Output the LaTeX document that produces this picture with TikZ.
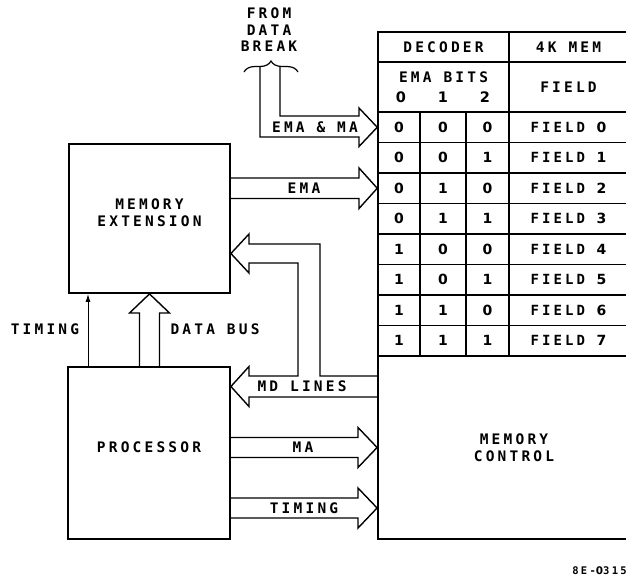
\documentclass[tikz,border=0pt]{standalone}
\usepackage{fontspec}
\usepackage{tikz}
\usetikzlibrary{
    arrows.meta,
    decorations.pathreplacing,
    shapes
}
\newfontfamily\leroy[LetterSpace=22]{DejaVu Sans Mono Bold}
\newfontfamily\digits{DejaVu Sans Bold}

\tikzset{
    blk/.style={draw, line width=1.8pt, inner sep=0pt},
    cell/.style={draw, line width=1.5pt, inner sep=0pt, minimum height=30.5, font=\leroy\fontsize{14}{16}\selectfont},
    bus/.style={line width=1.4pt, line join=miter},
    txt/.style={font=\leroy\fontsize{14.5}{17}\selectfont, align=center, inner sep=0pt}
}

\begin{document}
\begin{tikzpicture}[x=1pt, y=-1pt]
\useasboundingbox (0,0) rectangle (626,579);

% boxes
\node[blk, minimum width=161, minimum height=149] (memext) at (149.5,218.5) {};
\node[txt] at ([yshift=6pt]memext.center) {MEMORY\\EXTENSION};
\node[blk, minimum width=162, minimum height=172] (proc) at (149,453) {};
\node[txt] at ([yshift=6pt]proc.center) {PROCESSOR};
\node[blk, txt, draw, line width=1.8pt, minimum width=272, minimum height=183] (memctl) at (514,447.5) {MEMORY\\CONTROL};

% decoder table
\node[cell, txt, minimum width=131, minimum height=30] (dec) at (443.5,47) {DECODER};
\node[cell, txt, minimum width=119, minimum height=30] (mem4k) at (568.5,47) {4K MEM};
\node[cell, minimum width=131, minimum height=50] (emab) at (443.5,87) {};
\node[cell, txt, minimum width=119, minimum height=50] (fld) at (568.5,87) {FIELD};
\node[txt] at (443.5,77) {EMA BITS};
\node[txt] at (401,97) {\digits 0};
\node[txt] at (443,97) {\digits 1};
\node[txt] at (485,97) {\digits 2};
\foreach \p/\q/\r [count=\i from 0] in {0/0/0, 0/0/1, 0/1/0, 0/1/1, 1/0/0, 1/0/1, 1/1/0, 1/1/1} {
    \node[cell, minimum width=42] (b\i0) at (399, {127.25+30.5*\i}) {\digits\p};
    \node[cell, minimum width=46] (b\i1) at (443, {127.25+30.5*\i}) {\digits\q};
    \node[cell, minimum width=43] (b\i2) at (487.5, {127.25+30.5*\i}) {\digits\r};
    \node[cell, minimum width=119] (f\i) at (568.5, {127.25+30.5*\i}) {FIELD {\digits\i}};
}

% data break
\node[txt, font=\leroy\fontsize{14.5}{16.5}\selectfont] (brk) at (269,30) {FROM\\DATA\\BREAK};
\draw[line width=1.2pt, decorate, decoration={brace, amplitude=11pt}] (244,72) -- (298,72);
\coordinate (brkL) at (260,67);
\coordinate (brkR) at (280,67);

% buses
\draw[bus] (brkL) -- (260,137) -- (359,137) -- (359,146.5) -- (b00.west) -- (359,108) -- (359,116) -- (280,116) -- (brkR);
\node[txt] at (315,127) {EMA \& MA};

\draw[bus] (memext.east |- 0,178) -- (359,178) -- (359,168) -- (b20.west) -- (359,208.5) -- (359,198.5) -- (memext.east |- 0,198.5);
\node[txt] at (304,188.5) {EMA};

\draw[bus] (memctl.west |- 0,376) -- (320,376) -- (320,244) -- (249,244) -- (249,234) -- (memext.east |- 0,253.5) -- (249,273) -- (249,263) -- (298,263) -- (298,376) -- (249,376) -- (249,366.5) -- (proc.east |- 0,386.5) -- (249,406.5) -- (249,397) -- (memctl.west |- 0,397);
\node[txt] at (302,386.5) {MD LINES};

\draw[bus] (proc.east |- 0,437.5) -- (358,437.5) -- (358,427.5) -- (memctl.west) -- (358,467.5) -- (358,457.5) -- (proc.east |- 0,457.5);
\node[txt] at (303,447.5) {MA};

\draw[bus] (proc.east |- 0,498) -- (358,498) -- (358,488) -- (memctl.west |- 0,508) -- (358,528) -- (358,518) -- (proc.east |- 0,518);
\node[txt] at (304,508) {TIMING};

\draw[bus] (proc.north -| 139.5,0) -- (139.5,313) -- (129.5,313) -- (memext.south) -- (169.5,313) -- (159.5,313) -- (proc.north -| 159.5,0);
\node[txt] at (215,329) {DATA BUS};

\draw[-{Latex[length=8pt, width=5pt]}, line width=1pt] (proc.north -| 88,0) -- (memext.south -| 88,0);
\node[txt] at (45,329) {TIMING};

\node[txt, anchor=east, font=\leroy\fontsize{10.5}{13}\selectfont] at (627,571) {8E-{\digits 0}315};
\end{tikzpicture}
\end{document}
